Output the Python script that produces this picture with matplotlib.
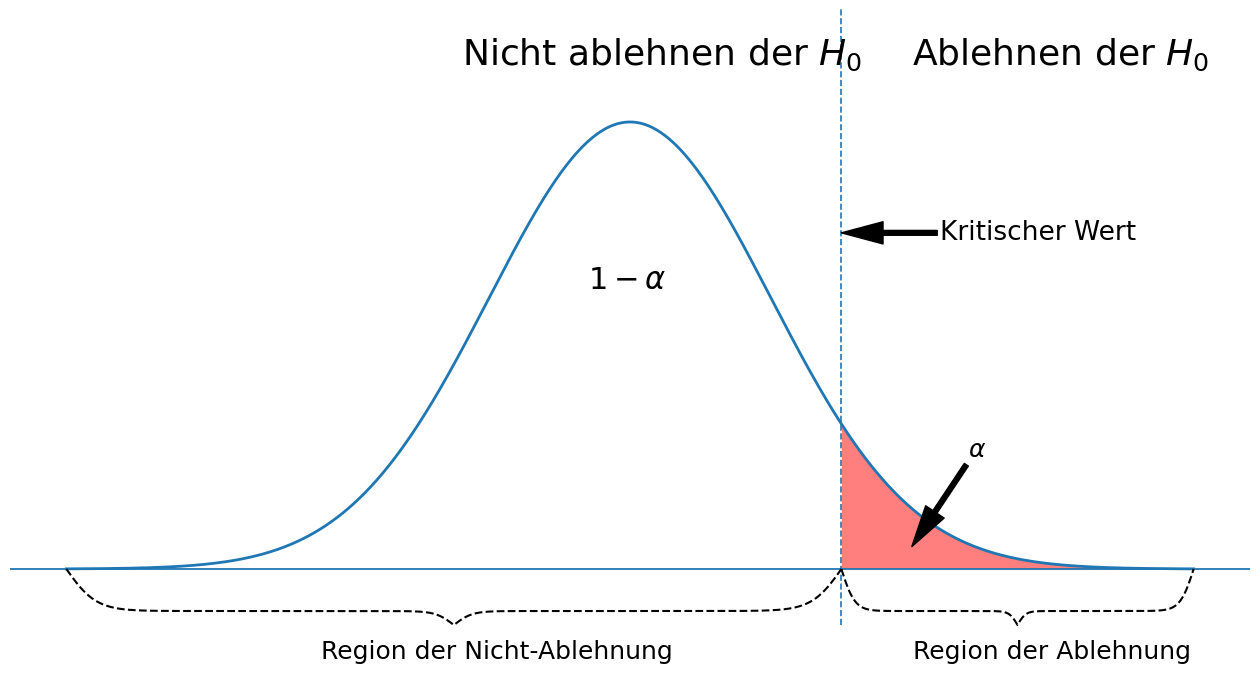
import matplotlib.pyplot as plt
import numpy as np

# ----distribution and critical value----#
mu = 0.0
sigma = 1.0
x_left = -4.0
x_right = 4.0
crit = 1.5

title_left = "Nicht ablehnen der $H_0$"
title_right = "Ablehnen der $H_0$"
label_left = "Region der Nicht-Ablehnung"
label_right = "Region der Ablehnung"
label_crit = "Kritischer Wert"

x = np.linspace(x_left, x_right, 801)
y = np.exp(-0.5 * ((x - mu) / sigma) ** 2) / (sigma * np.sqrt(2 * np.pi))


#----draws a dashed curly brace below the axis----#
def brace(ax, x0, x1, depth=0.0375, tip=0.0125):
    span = x1 - x0
    b1 = 52.0 / span
    b2 = 86.0 / span
    xm = (x0 + x1) / 2
    xs = np.linspace(x0, xm, 400)
    half = depth * np.tanh(b1 * (xs - x0) / 2) + 2 * tip / (1 + np.exp(-b2 * (xs - xm)))
    half = half - half[0]
    xx = np.concatenate((xs, 2 * xm - xs[-2::-1]))
    yy = -np.concatenate((half, half[-2::-1]))
    ax.plot(xx, yy, color='black', linestyle='--', linewidth=1.5)


fig = plt.figure(figsize=(12.6, 6.74), dpi=100)
ax = fig.add_axes([10 / 1260, 0, 1240 / 1260, 1])

ax.plot(x, y, color='C0', linewidth=2)
ax.axhline(0, color='C0', linewidth=1.3)
mask = x >= crit
ax.fill_between(x[mask], y[mask], color='red', alpha=0.5, linewidth=0)
ax.vlines(crit, -0.05, 0.5, colors='C0', linestyles='dashed', linewidth=1.2)

brace(ax, x_left, crit)
brace(ax, crit, x_right)

ax.text(-1.19, 0.45, title_left, fontsize=26)
ax.text(2.0, 0.45, title_right, fontsize=26)
ax.text(-0.02, 0.25, r'$1-\alpha$', fontsize=22, ha='center')
ax.text(-2.19, -0.08, label_left, fontsize=18)
ax.text(2.01, -0.08, label_right, fontsize=18)

ax.annotate(label_crit, xy=(crit, 0.3), xytext=(2.2, 0.3), fontsize=19, va='center',
            arrowprops=dict(facecolor='black', width=3.5, headwidth=16, headlength=30))
ax.annotate(r'$\alpha$', xy=(2.0, 0.02), xytext=(2.4, 0.1), fontsize=18,
            arrowprops=dict(facecolor='black', width=3.5, headwidth=16, headlength=30))

ax.set_xlim(-4.4, 4.4)
ax.set_ylim(-0.0937, 0.5078)
ax.axis('off')

fig.savefig('out.png', dpi=100)
